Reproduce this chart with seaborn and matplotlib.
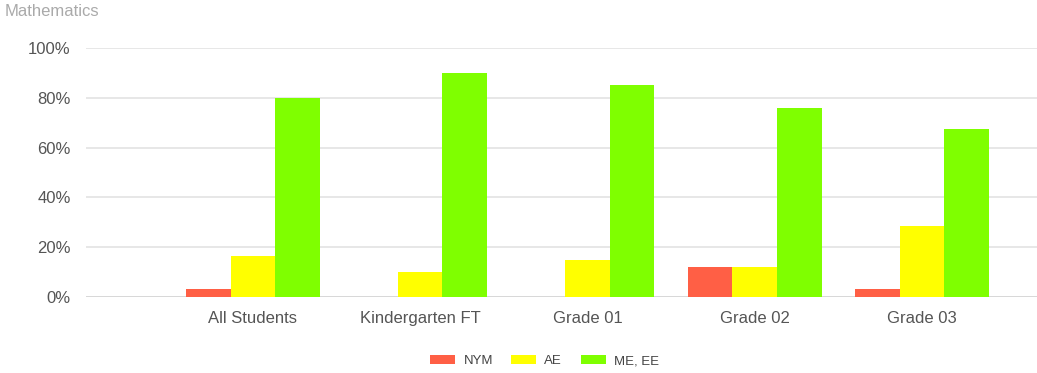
import matplotlib
matplotlib.use("Agg")
import matplotlib.pyplot as plt
import seaborn as sns
import pandas as pd
from matplotlib.ticker import FuncFormatter

categories = ["All Students", "Kindergarten FT", "Grade 01", "Grade 02", "Grade 03"]
series_names = ["NYM", "AE", "ME, EE"]
nym = [3.2, 0, 0, 12, 3.2]
ae = [16.5, 10, 15, 12, 28.5]
me_ee = [80, 90, 85, 76, 67.5]
colors = ["#FF5F45", "#FFFF00", "#7FFF00"]
title = "Mathematics"

rows = []
for name, vals in zip(series_names, [nym, ae, me_ee]):
    for c, v in zip(categories, vals):
        rows.append({"category": c, "series": name, "value": v})
df = pd.DataFrame(rows)

sns.set_theme(style="white")
plt.rcParams["font.family"] = ["Liberation Sans", "DejaVu Sans"]

fig = plt.figure(figsize=(10.37, 3.73), dpi=100)
ax = fig.add_axes([86 / 1037, 1 - 297 / 373, 1 - 86 / 1037, (297 - 48) / 373])

sns.barplot(data=df, x="category", y="value", hue="series", order=categories,
            hue_order=series_names, palette=colors, width=0.8, saturation=1,
            edgecolor="none", linewidth=0, ax=ax, zorder=3)

ax.set_xlim(-0.998, 4.688)
ax.set_ylim(0, 100)
ax.set_yticks([0, 20, 40, 60, 80, 100])
ax.yaxis.set_major_formatter(FuncFormatter(lambda v, p: f"{int(v)}%"))
ax.grid(axis="y", color="#e3e3e3", linewidth=1.2, zorder=0)
ax.grid(axis="x", visible=False)
for s in ax.spines.values():
    s.set_visible(False)
ax.axhline(0, color="#d6d6d6", linewidth=1.2, zorder=2)
ax.set_xlabel("")
ax.set_ylabel("")
ax.tick_params(axis="y", length=0, pad=11, labelsize=12, labelcolor="#555555")
ax.tick_params(axis="x", length=0, pad=10, labelsize=12, labelcolor="#555555")

leg = ax.legend(loc="center", bbox_to_anchor=(544.5 / 1037, 1 - 361 / 373),
                bbox_transform=fig.transFigure, ncol=3, frameon=False,
                fontsize=9.5, handlelength=1.9, handleheight=0.7,
                columnspacing=1.4, handletextpad=0.6)
for t in leg.get_texts():
    t.set_color("#444444")

fig.text(5 / 1037, 1 - 12 / 373, title, fontsize=12, color="#aaaaaa",
         ha="left", va="center")

fig.savefig("out.png", dpi=100)
